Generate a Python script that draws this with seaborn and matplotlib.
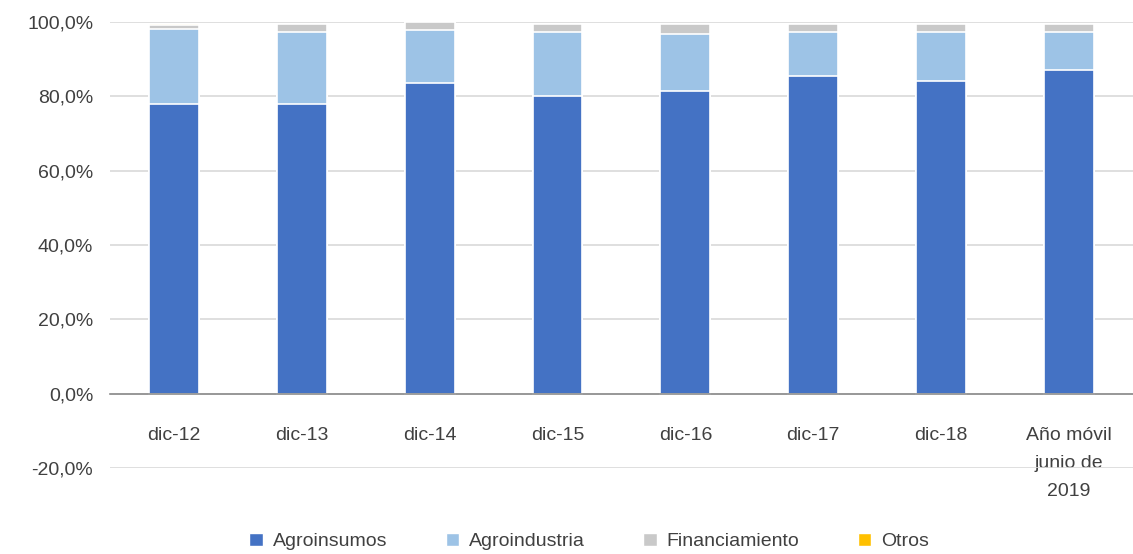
import numpy as np
import pandas as pd
import matplotlib
matplotlib.use("Agg")
import matplotlib.pyplot as plt
import seaborn as sns
from matplotlib.patches import Patch
from matplotlib.ticker import FuncFormatter, FixedLocator

# datos (participación %)
periodos = ["dic-12", "dic-13", "dic-14", "dic-15", "dic-16", "dic-17", "dic-18",
            "Año móvil\njunio de\n2019"]
agroinsumos = [78.0, 78.0, 83.5, 80.0, 81.5, 85.6, 84.2, 87.0]
agroindustria = [20.1, 19.4, 14.5, 17.4, 15.2, 11.8, 13.2, 10.4]
financiamiento = [1.2, 2.1, 2.0, 2.1, 2.8, 2.1, 2.1, 2.1]
otros = [0.1, 0.1, 0.0, 0.1, 0.1, 0.1, 0.1, 0.1]

series = ["Agroinsumos", "Agroindustria", "Financiamiento", "Otros"]
colores = ["#4472C4", "#9DC3E6", "#C9C9C9", "#FFC000"]

df = pd.DataFrame({"periodo": periodos, "Agroinsumos": agroinsumos,
                   "Agroindustria": agroindustria, "Financiamiento": financiamiento,
                   "Otros": otros})
acum = df[series].cumsum(axis=1)

sns.set_style("white")
plt.rcParams["font.family"] = ["Liberation Sans Narrow", "Liberation Sans", "DejaVu Sans"]

fig = plt.figure(figsize=(11.33, 5.54), dpi=100)
ax = fig.add_axes([0.097, 0.155, 0.903, 0.805])

# barras apiladas: se dibuja el acumulado de arriba hacia abajo
for s, c in reversed(list(zip(series, colores))):
    sns.barplot(x=df["periodo"], y=acum[s], color=c, width=0.39, saturation=1,
                edgecolor="white", linewidth=1.2, ax=ax, zorder=3)

ax.set_ylim(-20, 100)
ax.set_xlim(-0.5, len(periodos) - 0.5)
ax.set_yticks(np.arange(-20, 101, 20))
ax.yaxis.set_major_formatter(FuncFormatter(lambda v, p: f"{v:.1f}%".replace(".", ",")))
ax.grid(axis="y", color="#D9D9D9", linewidth=1.2, zorder=0)
ax.set_xlabel("")
ax.set_ylabel("")

for sp in ["top", "right", "left"]:
    ax.spines[sp].set_visible(False)
ax.spines["bottom"].set_position(("data", 0))
ax.spines["bottom"].set_color("#8C8C8C")
ax.spines["bottom"].set_linewidth(1.2)
ax.spines["bottom"].set_zorder(4)

ax.tick_params(axis="y", length=0, labelsize=14, colors="#404040", pad=12)
ax.tick_params(axis="x", which="major", length=0, labelsize=14, colors="#404040", pad=24)
ax.xaxis.set_minor_locator(FixedLocator(np.arange(-0.5, len(periodos), 1)))
ax.tick_params(axis="x", which="minor", length=6, color="#8C8C8C", width=1.2)
for t in ax.get_xticklabels():
    t.set_verticalalignment("top")
    t.set_linespacing(1.85)

handles = [Patch(facecolor=c, label=s) for s, c in zip(series, colores)]
fig.legend(handles=handles, loc="lower center", ncol=4, frameon=False,
           bbox_to_anchor=(0.52, -0.025), fontsize=14, handlelength=0.7,
           handleheight=0.7, columnspacing=3.0, handletextpad=0.5,
           labelcolor="#404040")

fig.savefig("out.png", dpi=100)
